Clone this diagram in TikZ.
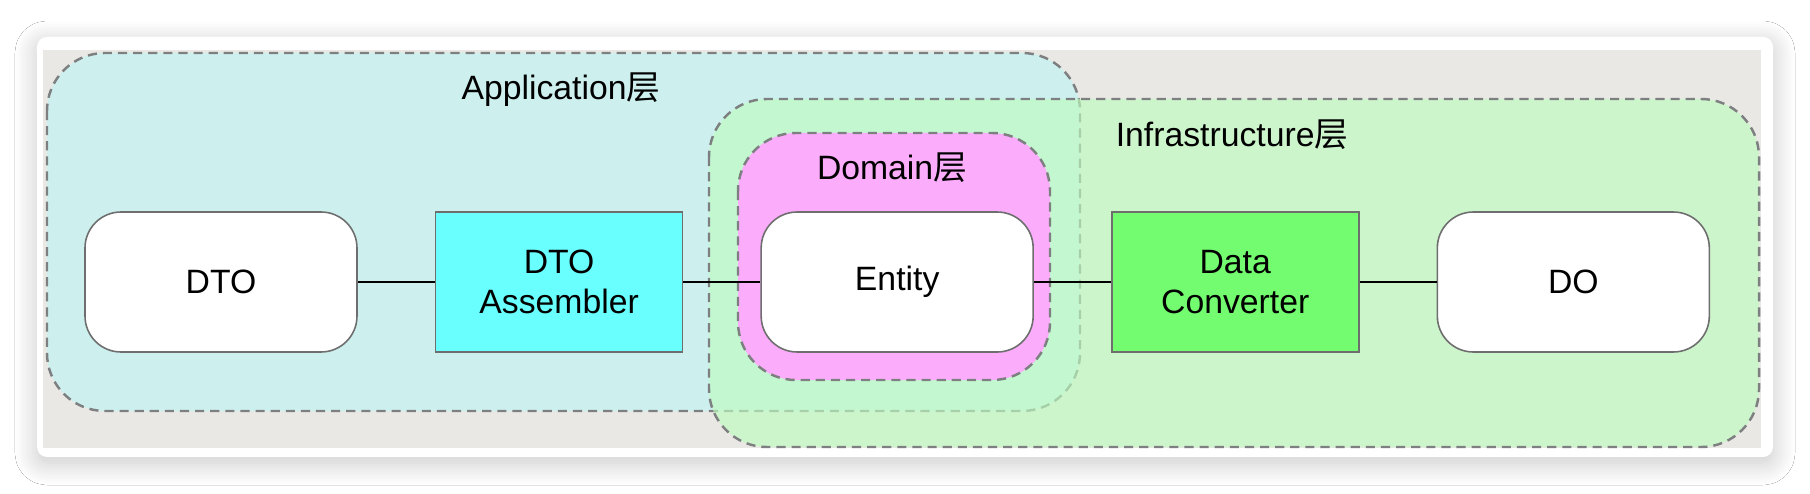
\documentclass[tikz,border=0pt]{standalone}
\usepackage{fontspec}
\setmainfont{Liberation Sans}
\newfontfamily\cjk{Noto Sans CJK SC}
\usetikzlibrary{positioning,shadows.blur}

\definecolor{cardgray}{HTML}{E9E8E4}
\definecolor{appcyan}{HTML}{CDF0EF}
\definecolor{infragreen}{HTML}{BEFCC0}
\definecolor{domainpink}{HTML}{FBADFB}
\definecolor{asmcyan}{HTML}{6AFFFF}
\definecolor{convgreen}{HTML}{74FC70}
\definecolor{edgegray}{HTML}{6E6E6E}
\definecolor{dashgray}{HTML}{7D7F80}

\begin{document}
\begin{tikzpicture}[
  node distance=0.77cm,
  font=\fontsize{9.6pt}{11.4pt}\selectfont,
  layer/.style={draw=dashgray,line width=0.7pt,dash pattern=on 2.6pt off 1.7pt,rounded corners=0.58cm},
  layer label/.style={inner sep=0pt,text=black},
  object/.style={draw=edgegray,line width=0.45pt,fill=white,rounded corners=0.36cm,
    minimum width=2.72cm,minimum height=1.40cm,align=center},
  mapper/.style={draw=edgegray,line width=0.45pt,minimum width=2.47cm,
    minimum height=1.40cm,align=center},
  link/.style={line width=0.45pt,black}
]
  \useasboundingbox (0,0) rectangle (18.10,-4.94);
  \fill[white] (0,0) rectangle (18.10,-4.94);

  % card with soft shadow and grey canvas
  \path[fill=white,rounded corners=0.1cm,
    blur shadow={shadow xshift=0pt,shadow yshift=-0.06cm,shadow blur radius=0.22cm,
      shadow blur steps=16,shadow opacity=22}]
    (0.37,-0.37) rectangle (17.73,-4.57);
  \fill[cardgray] (0.43,-0.50) rectangle (17.61,-4.48);

  % layers: Infrastructure is see-through over Application
  \draw[layer,fill=appcyan] (0.47,-0.53) rectangle (10.80,-4.11);
  \draw[layer,fill=infragreen,fill opacity=0.65] (7.09,-0.99) rectangle (17.59,-4.47);
  \draw[layer,fill=domainpink] (7.38,-1.33) rectangle (10.50,-3.80);

  \node[layer label] (applabel) at (5.61,-0.90) {Application{\cjk 层}};
  \node[layer label] (infralabel) at (12.32,-1.35) {Infrastructure{\cjk 层}};
  \node[layer label] (domainlabel) at (8.92,-1.68) {Domain{\cjk 层}};

  % objects and mappers
  \node[object] (dto) at (2.21,-2.82) {DTO};
  \node[mapper,fill=asmcyan,right=of dto] (asm) {DTO\\Assembler};
  \node[object,right=of asm] (entity) {Entity};
  \node[mapper,fill=convgreen,right=of entity] (conv) {Data\\Converter};
  \node[object,right=of conv] (do) {DO};

  \draw[link] (dto) -- (asm);
  \draw[link] (asm) -- (entity);
  \draw[link] (entity) -- (conv);
  \draw[link] (conv) -- (do);
\end{tikzpicture}
\end{document}
